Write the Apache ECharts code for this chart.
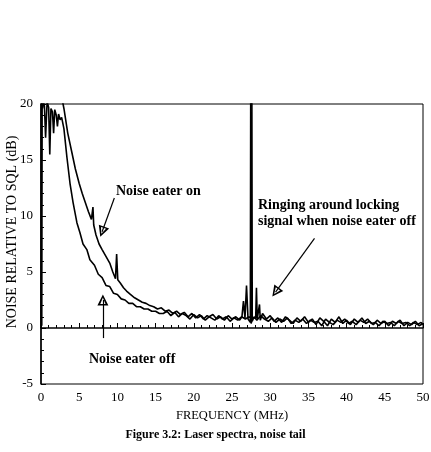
<!DOCTYPE html>
<html>
<head>
<meta charset="utf-8">
<script src="https://cdn.jsdelivr.net/npm/echarts@6/dist/echarts.min.js"></script>
<style>
  html, body { margin: 0; padding: 0; background: #fff; }
  #chart { width: 431px; height: 452px; }
</style>
</head>
<body>
<div id="chart"></div>
<script>
// noise eater off (lower curve, with ringing round 27.5 MHz)
const freqOff = [0, 0.05, 0.1, 0.15, 0.2, 0.3, 0.45, 0.6, 0.8, 1.0, 1.15, 1.3, 1.5, 1.65, 1.8, 2.0, 2.15, 2.3, 2.5, 2.7,
  3.0, 3.4, 3.8, 4.2, 4.7, 5.1, 5.5, 6.0, 6.4, 7.0, 7.5, 8.0, 8.5, 9.0, 9.5, 10.0, 10.5, 11.0, 11.5, 12.0, 12.5, 13.0,
  13.5, 14.0, 14.5, 15.0, 15.5, 16.0, 16.5, 17.0, 17.5, 18.0, 18.5, 19.0, 19.5, 20.0, 20.5, 21.0, 21.5, 22.0, 22.5,
  23.0, 23.5, 24.0, 24.5, 25.0, 25.5, 26.0, 26.3, 26.5, 26.7, 26.9, 27.1, 27.4, 27.45, 27.5, 27.7, 28.1, 28.2, 28.3,
  28.6, 28.7, 29.0, 29.5, 30.0, 30.5, 31.0, 31.5, 32.0, 32.5, 33.0, 33.5, 34.0, 34.5, 35.0, 35.5, 36.0, 36.5, 37.0,
  37.5, 38.0, 38.5, 39.0, 39.5, 40.0, 40.5, 41.0, 41.5, 42.0, 42.5, 43.0, 43.5, 44.0, 44.5, 45.0, 45.5, 46.0, 46.5,
  47.0, 47.5, 48.0, 48.5, 49.0, 49.5, 50.0]
const noiseOff = [0, 20.5, 0.2, 20.5, 19.6, 20.3, 19.8, 17.0, 20.2, 19.7, 15.5, 19.6, 19.3, 17.4, 19.5, 19.0, 18.0, 19.1, 18.6, 18.8,
  17.8, 15.2, 12.9, 11.2, 9.4, 8.5, 7.5, 7.0, 6.1, 5.6, 4.8, 4.5, 3.8, 3.7, 3.1, 3.0, 2.6, 2.5, 2.2, 2.2, 1.9, 1.9,
  1.7, 1.7, 1.5, 1.5, 1.3, 1.3, 1.5, 1.1, 1.4, 1.0, 1.3, 1.1, 0.8, 1.2, 0.9, 1.1, 0.7, 1.0, 1.2,
  0.8, 1.0, 0.7, 1.1, 0.8, 1.0, 0.7, 1.0, 2.4, 0.9, 3.8, 0.8, 0.5, 21.0, 0.4, 0.9, 0.9, 3.6, 0.8,
  2.1, 0.7, 1.3, 0.8, 1.1, 0.6, 0.9, 0.5, 1.0, 0.7, 0.4, 0.9, 0.6, 1.0, 0.5, 0.8, 0.3, 0.9, 0.6,
  0.2, 0.8, 0.5, 1.0, 0.4, 0.7, 0.3, 0.8, 0.5, 0.9, 0.4, 0.6, 0.3, 0.7, 0.4, 0.6, 0.2, 0.6, 0.4,
  0.7, 0.2, 0.5, 0.3, 0.6, 0.2, 0.4]

// noise eater on (upper curve)
const freqOn = [2.6, 3.0, 3.5, 4.0, 4.5, 5.0, 5.4, 5.8, 6.2, 6.6, 6.8, 6.9, 7.2, 7.6, 8.0, 8.5, 9.0, 9.4, 9.75, 9.9,
  10.05, 10.4, 10.8, 11.2, 11.7, 12.25, 12.75, 13.25, 13.75, 14.25, 14.75, 15.25, 15.75, 16.25, 16.75, 17.25, 17.75,
  18.25, 18.75, 19.25, 19.75, 20.25, 20.75, 21.25, 21.75, 22.25, 22.75, 23.25, 23.75, 24.25, 24.75, 25.25, 25.75,
  26.25, 26.75, 27.25, 27.55, 27.6, 27.65, 27.9, 28.25, 28.75, 29.25, 29.75, 30.25, 30.75, 31.25, 31.75, 32.25, 32.75,
  33.25, 33.75, 34.25, 34.75, 35.25, 35.75, 36.25, 36.75, 37.25, 37.75, 38.25, 38.75, 39.25, 39.75, 40.25, 40.75,
  41.25, 41.75, 42.25, 42.75, 43.25, 43.75, 44.25, 44.75, 45.25, 45.75, 46.25, 46.75, 47.25, 47.75, 48.25, 48.75,
  49.25, 49.75, 50.0]
const noiseOn = [21.0, 19.6, 17.4, 15.8, 14.2, 12.9, 12.0, 11.2, 10.4, 9.7, 10.8, 9.2, 8.3, 7.5, 7.0, 6.4, 5.8, 5.0, 4.4, 6.6,
  4.3, 4.0, 3.6, 3.3, 3.0, 2.7, 2.5, 2.3, 2.2, 2.0, 1.9, 1.7, 1.8, 1.5, 1.6, 1.3, 1.5,
  1.2, 1.4, 1.0, 1.3, 0.9, 1.2, 0.8, 1.1, 0.9, 0.7, 1.1, 0.8, 1.0, 0.6, 0.9, 0.7,
  1.0, 0.8, 1.0, 0.8, 21.0, 0.6, 1.0, 0.7, 1.1, 0.8, 0.6, 0.9, 0.5, 0.8, 0.6, 0.9, 0.4,
  0.7, 0.5, 0.8, 0.4, 0.7, 0.5, 0.6, 0.2, 0.8, 0.5, 0.3, 0.7, 0.5, 0.8, 0.4, 0.6,
  0.3, 0.7, 0.5, 0.8, 0.4, 0.5, 0.2, 0.6, 0.4, 0.5, 0.2, 0.6, 0.4, 0.5, 0.2, 0.5,
  0.3, 0.5, 0.3]

const xTicks = { min: 0, max: 50, interval: 5 }
const yTicks = { min: -5, max: 20, interval: 5 }

// annotation arrows, [from, to] in data units
const arrows = [
  [[9.6, 11.6], [8.0, 8.6]],
  [[8.1, -0.9], [8.1, 2.5]],
  [[35.8, 8.0], [30.7, 3.2]],
]

const serif = '"Liberation Serif", "DejaVu Serif", serif'
const openHead = 'path://M5,0 L10,12 L0,12 Z M5,3.5 L2.6,10.4 L7.4,10.4 Z'

const chart = echarts.init(document.getElementById('chart'))

const axisCommon = {
  type: 'value',
  nameLocation: 'middle',
  nameTextStyle: { fontFamily: serif, fontSize: 12.5, color: '#000' },
  axisLine: { lineStyle: { color: '#000', width: 1.5 } },
  axisTick: { inside: true, length: 5, lineStyle: { color: '#000' } },
  minorTick: { show: true, splitNumber: 5, length: 3, lineStyle: { color: '#000' } },
  axisLabel: { fontFamily: serif, fontSize: 13, color: '#000', margin: 7 },
  splitLine: { show: false },
}

const lineStyle = { color: '#000', width: 1.6 }

chart.setOption({
  animation: false,
  backgroundColor: '#fff',
  title: {
    text: 'Figure 3.2: Laser spectra, noise tail',
    left: 'center',
    top: 424,
    textStyle: { fontFamily: serif, fontSize: 12, fontWeight: 'bold', color: '#000' },
  },
  grid: {
    left: 41, right: 8, top: 104, bottom: 68,
    containLabel: false, outerBoundsMode: 'none',
    show: true, borderColor: '#000', borderWidth: 1,
  },
  xAxis: {
    ...axisCommon,
    ...xTicks,
    name: 'FREQUENCY (MHz)',
    nameGap: 24,
  },
  yAxis: {
    ...axisCommon,
    ...yTicks,
    axisLabel: { ...axisCommon.axisLabel, margin: 8 },
  },
  graphic: [
    {
      type: 'text', x: 12, y: 232, rotation: Math.PI / 2,
      style: {
        text: 'NOISE RELATIVE TO SQL (dB)', font: '14px ' + serif, fill: '#000',
        align: 'center', verticalAlign: 'middle', textAlign: 'center', textVerticalAlign: 'middle',
      },
    },
    { type: 'text', left: 116, top: 184, style: { text: 'Noise eater on', font: 'bold 14px ' + serif, fill: '#000' } },
    { type: 'text', left: 89, top: 352, style: { text: 'Noise eater off', font: 'bold 14px ' + serif, fill: '#000' } },
    { type: 'text', left: 258, top: 197, style: { text: 'Ringing around locking\nsignal when noise eater off', font: 'bold 14px ' + serif, lineHeight: 16, fill: '#000' } },
  ],
  series: [
    {
      name: 'Noise eater off',
      type: 'line',
      data: freqOff.map((f, i) => [f, noiseOff[i]]),
      showSymbol: false,
      clip: true,
      lineStyle,
      markLine: {
        silent: true,
        symbol: ['none', openHead],
        symbolSize: 11,
        label: { show: false },
        lineStyle: { color: '#000', width: 1.2, type: 'solid' },
        data: arrows.map(([a, b]) => [{ coord: a }, { coord: b }]),
      },
    },
    {
      name: 'Noise eater on',
      type: 'line',
      data: freqOn.map((f, i) => [f, noiseOn[i]]),
      showSymbol: false,
      clip: true,
      lineStyle,
    },
  ],
})
</script>
</body>
</html>
